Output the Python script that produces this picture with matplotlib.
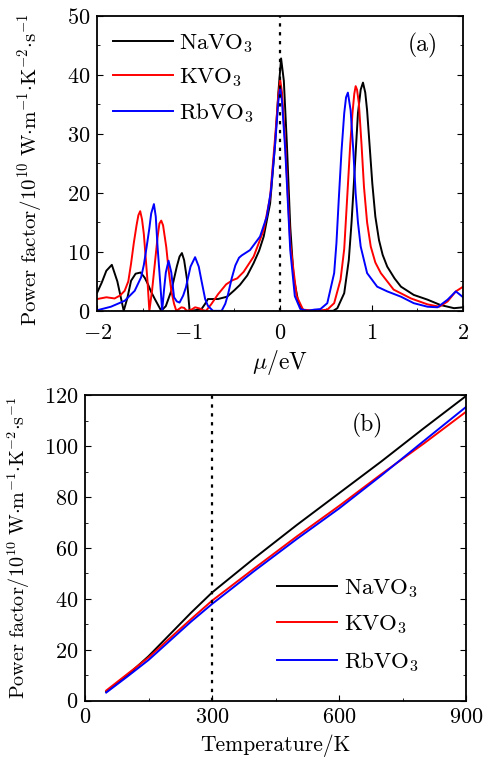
import matplotlib
matplotlib.use("Agg")
from matplotlib import pyplot as plt
from matplotlib.ticker import MultipleLocator

plt.rcParams['font.family'] = 'serif'
plt.rcParams['font.serif'] = ['cmr10']
plt.rcParams['mathtext.fontset'] = 'cm'
plt.rcParams['axes.formatter.use_mathtext'] = True
plt.rcParams['font.size'] = 16

# (a) power factor vs chemical potential
mu_na = [-2.0, -1.95, -1.9, -1.84, -1.78, -1.71, -1.67, -1.63, -1.58, -1.525, -1.48, -1.445,
         -1.41, -1.37, -1.30, -1.25, -1.19, -1.13, -1.1, -1.074, -1.05, -1.02, -0.99, -0.93,
         -0.86, -0.82, -0.79, -0.68, -0.58, -0.5, -0.44, -0.36, -0.29, -0.23, -0.18, -0.11,
         -0.055, -0.02, 0.01, 0.04, 0.073, 0.11, 0.146, 0.2, 0.255, 0.4, 0.58, 0.625, 0.7,
         0.75, 0.78, 0.81, 0.85, 0.88, 0.905, 0.93, 0.95, 0.98, 1.007, 1.04, 1.08, 1.12, 1.17,
         1.25, 1.32, 1.46, 1.61, 1.75, 1.9, 2.0]
pf_na = [3.1, 4.8, 6.8, 7.8, 5.0, 0.0, 2.2, 5.1, 6.3, 6.5, 5.6, 4.5,
         3.2, 2.0, 0.0, 0.8, 3.4, 7.5, 9.2, 9.8, 8.6, 5.5, 0.0, 0.1,
         0.3, 1.2, 2.0, 2.0, 2.4, 3.5, 4.4, 6.0, 8.1, 10.2, 12.6, 18.2,
         28.4, 37.0, 42.8, 39.0, 28.4, 14.3, 5.8, 1.3, 0.0, 0.0, 0.0, 0.45, 3.0,
         8.6, 15.0, 22.8, 33.5, 37.5, 38.7, 37.0, 34.0, 27.5, 21.6, 16.0, 12.0, 9.5, 7.5,
         5.5, 4.1, 2.7, 1.9, 1.0, 0.45, 0.6]
mu_k = [-2.0, -1.9, -1.81, -1.75, -1.7, -1.66, -1.63, -1.6, -1.57, -1.55, -1.53, -1.51, -1.49,
        -1.47, -1.45, -1.43, -1.4, -1.37, -1.34, -1.32, -1.30, -1.28, -1.245, -1.22, -1.19,
        -1.16, -1.135, -1.08, -1.05, -1.02, -0.97, -0.93, -0.88, -0.84, -0.81, -0.75, -0.68,
        -0.59, -0.52, -0.47, -0.4, -0.29, -0.18, -0.11, -0.055, -0.02, 0.0, 0.02, 0.055,
        0.11, 0.18, 0.25, 0.4, 0.515, 0.59, 0.66, 0.7, 0.735, 0.765, 0.79, 0.81, 0.825, 0.84,
        0.86, 0.89, 0.916, 0.95, 0.99, 1.04, 1.1, 1.24, 1.43, 1.61, 1.74, 1.83, 1.92, 2.0]
pf_k = [2.0, 2.3, 2.1, 2.6, 3.4, 5.0, 8.0, 11.5, 14.5, 16.2, 16.9, 15.5, 13.0,
        9.0, 5.0, 0.0, 3.5, 8.0, 12.5, 14.8, 15.3, 14.5, 10.8, 7.0, 3.4,
        1.2, 0.0, 0.6, 0.5, 0.0, 0.2, 0.6, 0.4, 0.1, 0.0, 1.2, 2.8,
        4.5, 5.2, 5.5, 6.6, 9.2, 13.7, 19.3, 29.5, 36.5, 39.2, 37.0, 28.4,
        11.5, 2.5, 0.2, 0.0, 0.2, 1.3, 5.3, 10.5, 19.9, 28.0, 33.5, 36.8, 38.1, 37.5,
        35.2, 28.0, 21.0, 15.0, 10.9, 8.2, 6.4, 3.6, 2.1, 1.1, 0.7, 1.6, 3.3, 4.1]
mu_rb = [-2.0, -1.85, -1.7, -1.59, -1.52, -1.49, -1.46, -1.43, -1.41, -1.38, -1.36, -1.34,
         -1.31, -1.29, -1.27, -1.25, -1.22, -1.19, -1.16, -1.13, -1.10, -1.06, -1.03, -0.98,
         -0.93, -0.89, -0.86, -0.82, -0.79, -0.735, -0.64, -0.6, -0.57, -0.53, -0.49, -0.45,
         -0.42, -0.33, -0.22, -0.146, -0.1, -0.055, -0.02, 0.0, 0.02, 0.055, 0.11, 0.16, 0.22,
         0.3, 0.37, 0.44, 0.515, 0.59, 0.615, 0.64, 0.67, 0.70, 0.72, 0.74, 0.77, 0.8, 0.825,
         0.85, 0.88, 0.95, 1.06, 1.17, 1.32, 1.46, 1.61, 1.72, 1.83, 1.92, 2.0]
pf_rb = [0.1, 0.7, 1.7, 3.4, 5.7, 7.8, 10.8, 14.0, 16.5, 18.1, 16.0, 10.8,
         4.5, 0.0, 3.5, 6.5, 8.5, 6.5, 2.3, 1.6, 1.4, 2.6, 4.0, 7.5,
         9.1, 7.5, 5.1, 2.0, 0.85, 0.0, 0.0, 1.2, 2.8, 5.5, 7.7, 9.0,
         9.4, 10.3, 12.6, 16.0, 20.5, 28.4, 35.5, 37.9, 35.5, 27.3, 10.3, 2.5, 0.3,
         0.0, 0.2, 0.3, 1.3, 6.4, 11.5, 18.8, 27.0, 33.5, 36.2, 37.0, 34.0, 27.0, 19.9,
         15.0, 10.9, 6.4, 4.1, 3.3, 2.4, 1.3, 0.7, 0.6, 1.9, 3.3, 2.3]

# (b) power factor vs temperature
temp = [50, 100, 150, 200, 250, 300, 400, 500, 600, 700, 800, 900]
pf_na_t = [3.5, 10.0, 17.5, 26.0, 34.5, 42.5, 56.0, 69.0, 81.5, 94.0, 107.0, 119.7]
pf_k_t = [4.0, 10.5, 17.0, 24.5, 32.0, 39.3, 52.0, 64.5, 76.5, 89.0, 101.0, 113.5]
pf_rb_t = [3.2, 9.5, 16.0, 23.5, 31.0, 38.0, 51.0, 63.5, 75.5, 88.5, 102.0, 115.4]

labels = [r'$\mathrm{NaVO_3}$', r'$\mathrm{KVO_3}$', r'$\mathrm{RbVO_3}$']
colors = ['black', 'red', 'blue']
ylab = r'$\mathrm{Power\ factor/10^{10}\ W{\cdot}m^{-1}{\cdot}K^{-2}{\cdot}s^{-1}}$'

fig = plt.figure(figsize=(4.86, 7.6), dpi=100)
ax1 = fig.add_axes([0.2, 0.591, 0.753, 0.388])
ax2 = fig.add_axes([0.175, 0.078, 0.784, 0.402])

for x, y, c, l in zip([mu_na, mu_k, mu_rb], [pf_na, pf_k, pf_rb], colors, labels):
    ax1.plot(x, y, color=c, lw=1.4, label=l)
ax1.axvline(0, color='black', ls=(0, (1.5, 2.5)), lw=1.6)
ax1.set_xlim(-2, 2)
ax1.set_ylim(0, 50)
ax1.xaxis.set_major_locator(MultipleLocator(1))
ax1.xaxis.set_minor_locator(MultipleLocator(0.5))
ax1.yaxis.set_major_locator(MultipleLocator(10))
ax1.yaxis.set_minor_locator(MultipleLocator(5))
ax1.set_xlabel(r'$\mu/\mathrm{eV}$', fontsize=17)
ax1.xaxis.set_label_coords(0.5, -0.125)
ax1.set_ylabel(ylab, fontsize=15)
ax1.yaxis.set_label_coords(-0.142, 0.48)
ax1.text(1.56, 45, '(a)', ha='center', va='center', fontsize=17)
ax1.legend(loc='upper left', frameon=False, handlelength=2.6, handletextpad=0.25,
           labelspacing=0.5, borderaxespad=0.3, fontsize=16.5)
ax1.tick_params(axis='x', which='major', pad=9)

for y, c, l in zip([pf_na_t, pf_k_t, pf_rb_t], colors, labels):
    ax2.plot(temp, y, color=c, lw=1.4, label=l)
ax2.axvline(300, color='black', ls=(0, (1.5, 2.5)), lw=1.6)
ax2.set_xlim(0, 900)
ax2.set_ylim(0, 120)
ax2.xaxis.set_major_locator(MultipleLocator(300))
ax2.xaxis.set_minor_locator(MultipleLocator(150))
ax2.yaxis.set_major_locator(MultipleLocator(20))
ax2.yaxis.set_minor_locator(MultipleLocator(10))
ax2.set_xlabel('Temperature/K', fontsize=15.5)
ax2.xaxis.set_label_coords(0.5, -0.11)
ax2.set_ylabel(ylab, fontsize=14.5)
ax2.yaxis.set_label_coords(-0.14, 0.5)
ax2.text(668, 108, '(b)', ha='center', va='center', fontsize=17)
ax2.legend(loc='lower right', frameon=False, handlelength=2.6, handletextpad=0.3,
           labelspacing=0.6, bbox_to_anchor=(0.93, 0.02), fontsize=16.5)
ax2.tick_params(axis='x', which='major', pad=5)

for ax in (ax1, ax2):
    ax.tick_params(which='both', direction='in', right=True, top=False, labelsize=16)
    ax.tick_params(which='major', length=4)
    ax.tick_params(axis='y', which='major', pad=5)
    ax.tick_params(which='minor', length=2.5)
    for s in ax.spines.values():
        s.set_linewidth(1.3)

fig.savefig('out.png', dpi=100)
